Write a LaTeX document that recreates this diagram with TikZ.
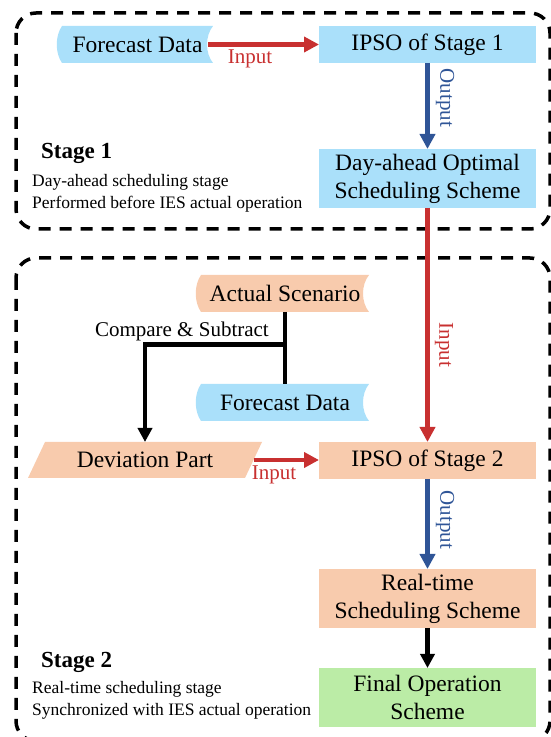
\documentclass[tikz,border=0pt]{standalone}
\usepackage{fontspec}
\setmainfont{Liberation Serif}
\usetikzlibrary{arrows.meta,positioning,backgrounds,calc}
\definecolor{datablue}{RGB}{170,224,250}
\definecolor{peach}{RGB}{248,203,173}
\definecolor{mint}{RGB}{187,236,166}
\definecolor{inred}{RGB}{200,48,48}
\definecolor{outblue}{RGB}{47,85,151}
\newcommand{\boxfont}{\fontsize{23.5}{28}\selectfont}
\newcommand{\lblfont}{\fontsize{21}{24}\selectfont}
\newcommand{\notefont}{\fontsize{17.5}{22}\selectfont}
\newcommand{\stagefont}{\bfseries\fontsize{23}{26}\selectfont}

\begin{document}
\begin{tikzpicture}[x=1pt, y=1pt,
  box/.style={inner sep=0pt, outer sep=0pt, minimum width=217pt, minimum height=37pt, align=center, font=\boxfont},
  tallbox/.style={box, minimum height=59pt},
  frame/.style={draw, line width=3.5pt, dash pattern=on 12pt off 9pt, rounded corners=20pt},
  inarrow/.style={draw=inred, line width=4.5pt, -{Triangle[length=15pt, width=15pt]}},
  outarrow/.style={draw=outblue, line width=4.5pt, -{Triangle[length=15pt, width=15pt]}},
  blkline/.style={draw, line width=4.5pt},
  blkarrow/.style={blkline, -{Triangle[length=14pt, width=14pt]}},
  lbl/.style={font=\lblfont, inner sep=0pt}
]
\useasboundingbox (0,0) rectangle (551,737);

% stage frames
\draw[frame] (16,724) rectangle (550,508);
\draw[frame] (16,479) rectangle (550,-4);

% main column
\node[box, fill=datablue] (ipso1) at (427.5,692.5) {IPSO of Stage 1};
\node[tallbox, fill=datablue, below=86pt of ipso1] (dayahead) {Day-ahead Optimal\\Scheduling Scheme};
\node[box, fill=peach, below=234pt of dayahead] (ipso2) {IPSO of Stage 2};
\node[tallbox, fill=peach, below=90pt of ipso2] (realtime) {Real-time\\Scheduling Scheme};
\node[tallbox, fill=mint, below=40pt of realtime] (final) {Final Operation\\Scheme};

% data inputs
\node[box, minimum width=151pt, left=106pt of ipso1] (fc1) {Forecast Data};
\node[box, minimum width=168pt] (actual) at (285,443.5) {Actual Scenario};
\node[box, minimum width=168pt, below=72pt of actual] (fc2) {Forecast Data};
\node[box, minimum height=36pt] (deviation) at (145,277) {Deviation Part};

\begin{scope}[on background layer]
\foreach \n/\c in {fc1/datablue, actual/peach, fc2/datablue}
  \fill[\c] (\n.north west) .. controls +(-7,-10) and +(-7,10) .. (\n.south west)
    -- (\n.south east) .. controls +(-8,10) and +(-8,-10) .. (\n.north east) -- cycle;
\fill[peach] ([xshift=8.5pt]deviation.north west) -- ([xshift=8.5pt]deviation.north east)
  -- ([xshift=-8.5pt]deviation.south east) -- ([xshift=-8.5pt]deviation.south west) -- cycle;
\end{scope}

% connectors
\draw[inarrow] ([xshift=-5pt]fc1.east) -- (ipso1.west);
\draw[outarrow] (ipso1) -- (dayahead);
\draw[inarrow] (dayahead) -- (ipso2);
\draw[inarrow] (deviation.east) -- (deviation.east -| ipso2.west);
\draw[outarrow] (ipso2) -- (realtime);
\draw[blkarrow] (realtime) -- (final);
\draw[blkline] (actual) -- (fc2);
\coordinate (split) at ($(actual.south)!0.45!(fc2.north)$);
\draw[blkarrow] (split) -| (deviation.north);

% labels
\node[lbl, text=inred] (in1) at (250,678) {Input};
\node[lbl, text=outblue, rotate=-90] (out1) at (445,639) {Output};
\node[lbl, text=inred, rotate=-90] (in2) at (444,392) {Input};
\node[lbl, text=inred] (in3) at (274,262) {Input};
\node[lbl, text=outblue, rotate=-90] (out2) at (445,217) {Output};
\node[lbl, anchor=east] (cmp) at (269,406) {Compare \& Subtract};

% stage notes
\node[anchor=west, font=\stagefont, inner sep=0pt] (st1) at (41,584) {Stage 1};
\node[anchor=west, align=left, font=\notefont, inner sep=0pt] (st1note) at (32,544) {Day-ahead scheduling stage\\Performed before IES actual operation};
\node[anchor=west, font=\stagefont, inner sep=0pt] (st2) at (41,75) {Stage 2};
\node[anchor=west, align=left, font=\notefont, inner sep=0pt] (st2note) at (32,37) {Real-time scheduling stage\\Synchronized with IES actual operation};
\end{tikzpicture}
\end{document}
